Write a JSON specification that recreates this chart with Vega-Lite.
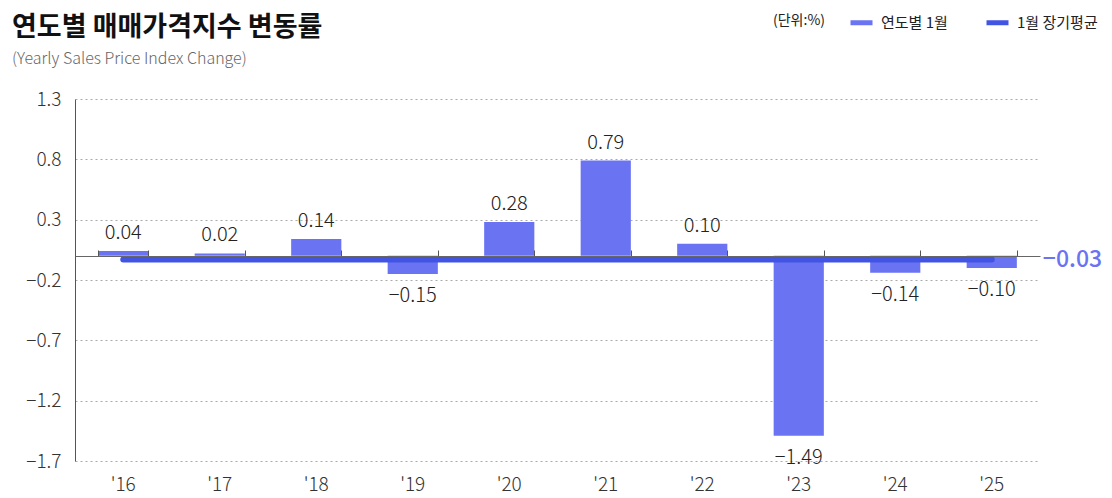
{
  "$schema": "https://vega.github.io/schema/vega-lite/v6.json",
  "autosize": {"type": "none"},
  "width": 965,
  "height": 362,
  "padding": {"left": 75, "top": 99, "right": 72, "bottom": 37},
  "background": "white",
  "config": {
    "font": "Noto Sans CJK KR",
    "view": {"stroke": null}
  },
  "title": {
    "text": "연도별 매매가격지수 변동률",
    "subtitle": "(Yearly Sales Price Index Change)",
    "anchor": "start",
    "frame": "group",
    "dx": -63,
    "fontSize": 27,
    "fontWeight": "bold",
    "color": "#111",
    "subtitleFontSize": 16,
    "subtitleColor": "#666",
    "subtitleFontWeight": 300,
    "subtitlePadding": 9,
    "offset": -59
  },
  "datasets": {
    "bars": [
      {"year": "'16", "v": 0.04},
      {"year": "'17", "v": 0.02},
      {"year": "'18", "v": 0.14},
      {"year": "'19", "v": -0.15},
      {"year": "'20", "v": 0.28},
      {"year": "'21", "v": 0.79},
      {"year": "'22", "v": 0.10},
      {"year": "'23", "v": -1.49},
      {"year": "'24", "v": -0.14},
      {"year": "'25", "v": -0.10}
    ],
    "avg": [
      {"start": "'16", "end": "'25", "avg": -0.03}
    ]
  },
  "resolve": {"axis": {"x": "independent"}},
  "layer": [
    {
      "data": {"name": "bars"},
      "mark": {"type": "bar"},
      "encoding": {
        "x": {
          "field": "year", "type": "nominal", "sort": null,
          "scale": {"paddingInner": 0.48, "paddingOuter": 0.24},
          "axis": {
            "title": null, "labelAngle": 0, "domain": false, "ticks": false,
            "labelFontSize": 19, "labelFontWeight": 300, "labelColor": "#333", "labelPadding": 14
          }
        },
        "y": {
          "field": "v", "type": "quantitative",
          "scale": {"domain": [-1.7, 1.3], "nice": false, "zero": false},
          "axis": {
            "title": null, "values": [1.3, 0.8, 0.3, -0.2, -0.7, -1.2, -1.7],
            "format": ".1f", "ticks": false, "labelPadding": 14,
            "labelFontSize": 19, "labelFontWeight": 300, "labelColor": "#333",
            "domain": true, "domainColor": "#555",
            "grid": true, "gridColor": "#aaa", "gridDash": [2, 3]
          }
        },
        "y2": {"datum": 0},
        "color": {
          "datum": "연도별 1월",
          "scale": {"domain": ["연도별 1월", "1월 장기평균"], "range": ["#6a73f2", "#4254e4"]},
          "legend": {
            "title": "(단위:%)", "titleOrient": "left", "titleFontSize": 14,
            "titleFontWeight": "normal", "titleColor": "#222", "titlePadding": 22,
            "orient": "none", "legendX": 698, "legendY": -90, "direction": "horizontal",
            "symbolType": "stroke", "symbolStrokeWidth": 5, "symbolSize": 484,
            "labelFontSize": 15, "labelColor": "#222", "labelOffset": 6,
            "columnPadding": 28
          }
        }
      }
    },
    {
      "data": {"name": "bars"},
      "mark": {"type": "rule", "opacity": 0},
      "encoding": {
        "x": {
          "field": "year", "type": "nominal", "sort": null,
          "axis": {
            "orient": "top", "offset": -157, "labels": false, "title": null,
            "tickBand": "extent", "tickSize": 6, "tickColor": "#555",
            "domain": true, "domainColor": "#666", "zindex": 1
          }
        }
      }
    },
    {
      "data": {"name": "avg"},
      "mark": {"type": "rule", "strokeWidth": 6, "strokeCap": "round"},
      "encoding": {
        "x": {"field": "start", "type": "nominal", "axis": null},
        "x2": {"field": "end"},
        "y": {"field": "avg", "type": "quantitative"},
        "color": {"datum": "1월 장기평균"}
      }
    },
    {
      "data": {"name": "avg"},
      "mark": {"type": "text", "align": "left", "baseline": "middle", "dx": 26, "dy": 1, "fontSize": 23, "fontWeight": 500, "color": "#6a73f2"},
      "encoding": {
        "x": {"field": "end", "type": "nominal", "bandPosition": 1, "axis": null},
        "y": {"field": "avg", "type": "quantitative"},
        "text": {"field": "avg", "type": "quantitative", "format": ".2f"}
      }
    },
    {
      "data": {"name": "bars"},
      "transform": [{"filter": "datum.v >= 0"}],
      "mark": {"type": "text", "baseline": "middle", "dy": -18, "fontSize": 20, "fontWeight": 300, "color": "#222"},
      "encoding": {
        "x": {"field": "year", "type": "nominal", "sort": null, "axis": null},
        "y": {"field": "v", "type": "quantitative"},
        "text": {"field": "v", "type": "quantitative", "format": ".2f"}
      }
    },
    {
      "data": {"name": "bars"},
      "transform": [{"filter": "datum.v < 0"}],
      "mark": {"type": "text", "baseline": "middle", "dy": 22, "fontSize": 20, "fontWeight": 300, "color": "#222"},
      "encoding": {
        "x": {"field": "year", "type": "nominal", "sort": null, "axis": null},
        "y": {"field": "v", "type": "quantitative"},
        "text": {"field": "v", "type": "quantitative", "format": ".2f"}
      }
    }
  ]
}
